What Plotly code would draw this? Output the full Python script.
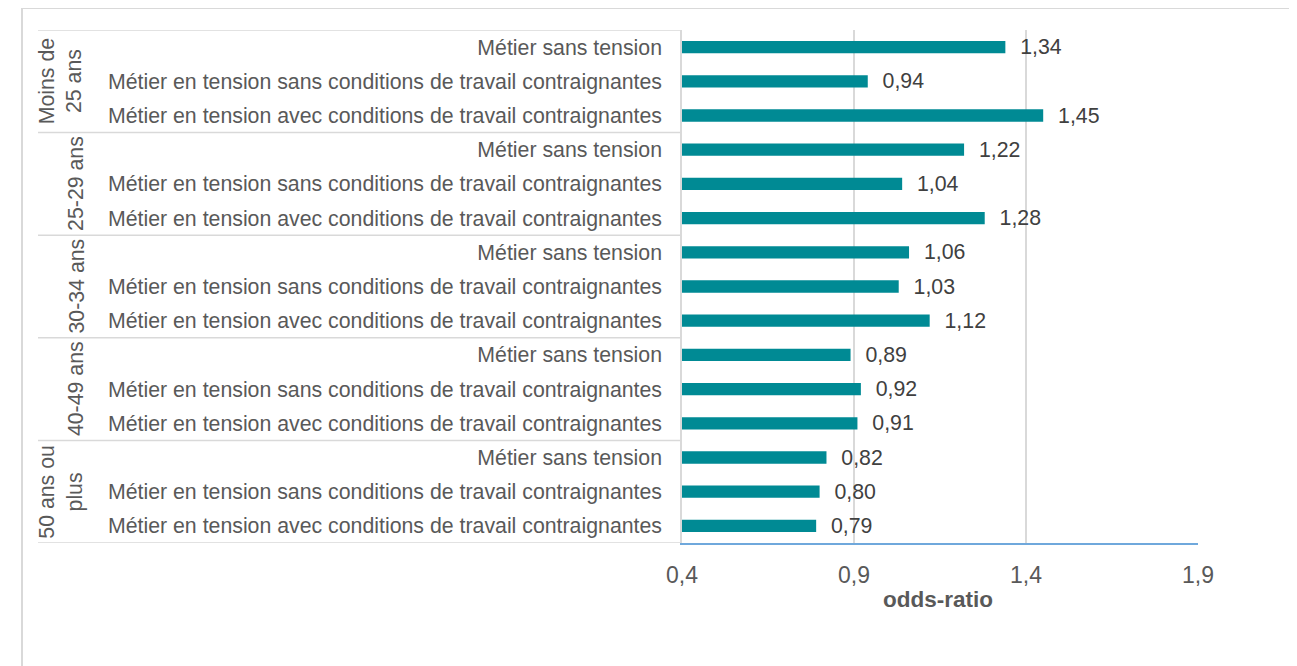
import plotly.graph_objects as go

# Groupes d'âge et catégories de métiers (de haut en bas)
groupes = ["Moins de<br>25 ans", "25-29 ans", "30-34 ans", "40-49 ans", "50 ans ou<br>plus"]
metiers = [
    "Métier sans tension",
    "Métier en tension sans conditions de travail contraignantes",
    "Métier en tension avec conditions de travail contraignantes",
]
odds_ratio = [
    1.34, 0.94, 1.45,
    1.22, 1.04, 1.28,
    1.06, 1.03, 1.12,
    0.89, 0.92, 0.91,
    0.82, 0.80, 0.79,
]
ticks_x = [0.4, 0.9, 1.4, 1.9]

O = 8                       # marge du body de la page html
W, H = 1297 - O, 666 - O
L, R, T, B = 682, 1198, 30, 543   # zone de tracé (pixels de la page)

def px_x(px):
    return (px - L) / (R - L)

def px_y(py):
    return (B - py) / (B - T)

labels = [m for _ in groupes for m in metiers]
pos = list(range(len(labels)))

TEXT = "#595959"
TEAL = "#008A94"
GRID = "#D9D9D9"
FONT = 21.3

fig = go.Figure()
fig.add_trace(go.Bar(
    x=odds_ratio,
    y=pos,
    orientation="h",
    width=0.36,
    marker=dict(color=TEAL, line=dict(width=0)),
    texttemplate="\u00a0\u00a0%{x:.2f}",
    textposition="outside",
    constraintext="none",
    cliponaxis=False,
    textfont=dict(size=FONT, color="#404040"),
    hoverinfo="skip",
))

shapes = []
# séparateurs de groupes
n = len(metiers)
for g in range(len(groupes) + 1):
    yb = g * n - 0.5
    shapes.append(dict(type="line", xref="paper", yref="y",
                       x0=px_x(38), x1=0, y0=yb, y1=yb,
                       line=dict(color=GRID, width=1.5)))
# cadre extérieur
shapes.append(dict(type="rect", xref="paper", yref="paper",
                   x0=px_x(22), x1=px_x(1320), y0=px_y(690), y1=px_y(8),
                   line=dict(color=GRID, width=2), layer="below"))

annotations = []
for g, nom in enumerate(groupes):
    yc = g * n + (n - 1) / 2
    deux_lignes = "<br>" in nom
    annotations.append(dict(
        text=nom, xref="paper", yref="y",
        x=px_x(61 if deux_lignes else 76), y=yc,
        textangle=-90, showarrow=False,
        font=dict(size=FONT, color=TEXT),
        xanchor="center", yanchor="middle",
    ))
annotations.append(dict(
    text="<b>odds-ratio</b>", xref="paper", yref="paper",
    x=px_x(938), y=px_y(599), showarrow=False,
    font=dict(size=22.5, color=TEXT), xanchor="center", yanchor="middle",
))

fig.update_layout(
    width=W, height=H,
    margin=dict(l=L - O, r=1297 - R, t=T - O, b=666 - B),
    paper_bgcolor="white", plot_bgcolor="white",
    font=dict(family="Liberation Sans, Arial, sans-serif", color=TEXT),
    separators=", ",
    showlegend=False,
    shapes=shapes,
    annotations=annotations,
)
fig.update_xaxes(
    range=[0.4, 1.9], tickvals=ticks_x, ticktext=[f"{v:.1f}".replace(".", ",") for v in ticks_x],
    showgrid=True, gridcolor=GRID, gridwidth=1.5,
    showline=True, linecolor="#6FA8DC", linewidth=1.5,
    zeroline=False, ticks="", tickfont=dict(size=23, color=TEXT),
    ticklabelstandoff=11,
)
fig.update_yaxes(
    range=[len(labels) - 0.5, -0.5], tickvals=pos, ticktext=labels,
    showgrid=False, zeroline=False,
    showline=True, linecolor=GRID, linewidth=1.5,
    ticks="", tickfont=dict(size=FONT, color=TEXT),
    ticklabelstandoff=14,
)

fig.write_html("out.html")
